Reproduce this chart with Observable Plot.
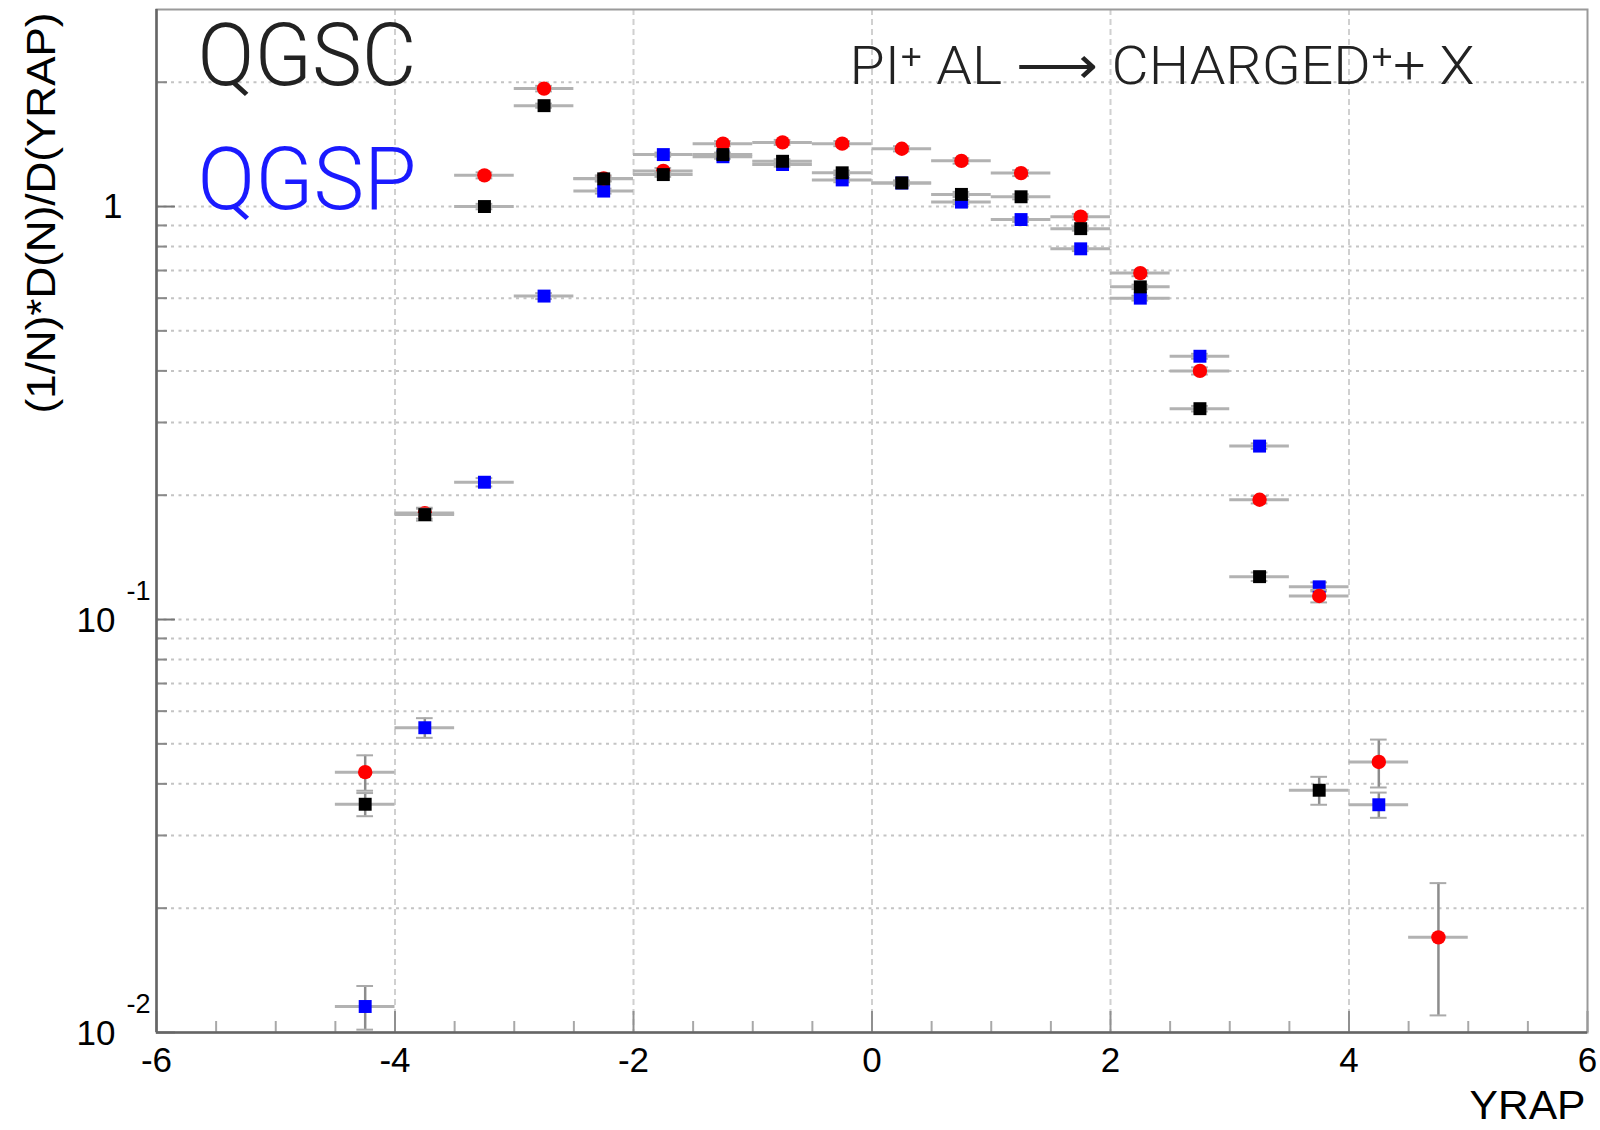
<!DOCTYPE html>
<html><head><meta charset="utf-8">
<script src="https://cdn.jsdelivr.net/npm/d3@7"></script>
<script src="https://cdn.jsdelivr.net/npm/@observablehq/plot@0.6"></script>
<style>
html,body{margin:0;padding:0;background:#fff;}
#chart{width:1600px;height:1130px;}
</style></head><body><div id="chart"></div>
<script>
// ---- data ----
const xCenters = [-4.25, -3.75, -3.25, -2.75, -2.25, -1.75, -1.25, -0.75, -0.25, 0.25, 0.75, 1.25, 1.75, 2.25, 2.75, 3.25, 3.75, 4.25, 4.75];
const xHalfWidth = 0.25;
const redValues   = [0.0427, 0.181, 1.19, 1.93, 1.17, 1.22, 1.42, 1.43, 1.42, 1.38, 1.29, 1.205, 0.945, 0.69, 0.40, 0.195, 0.114, 0.0452, 0.0170];
const redErrors   = [0.0042, 0.0055, 0.02, 0.03, 0.02, 0.02, 0.02, 0.02, 0.02, 0.02, 0.02, 0.02, 0.015, 0.012, 0.008, 0.004, 0.004, 0.006, 0.006];
const blackValues = [0.0357, 0.1795, 1.00, 1.755, 1.167, 1.195, 1.336, 1.287, 1.207, 1.141, 1.07, 1.056, 0.884, 0.639, 0.324, 0.127, 0.0386, null, null];
const blackErrors = [0.0023, 0.006, 0.015, 0.02, 0.015, 0.015, 0.015, 0.015, 0.015, 0.015, 0.015, 0.015, 0.01, 0.008, 0.005, 0.003, 0.003, null, null];
const blueValues  = [0.01156, 0.0547, 0.215, 0.607, 1.09, 1.336, 1.32, 1.264, 1.16, 1.14, 1.025, 0.93, 0.79, 0.60, 0.434, 0.263, 0.120, 0.0356, null];
const blueErrors  = [0.0014, 0.003, 0.005, 0.01, 0.015, 0.015, 0.015, 0.015, 0.015, 0.015, 0.012, 0.012, 0.01, 0.008, 0.006, 0.004, 0.003, 0.0025, null];

const xTickValues = [-6, -4, -2, 0, 2, 4, 6];
const xTickLabels = ["-6", "-4", "-2", "0", "2", "4", "6"];
const xMinorTicks = [-5.5, -5, -4.5, -3.5, -3, -2.5, -1.5, -1, -0.5, 0.5, 1, 1.5, 2.5, 3, 3.5, 4.5, 5, 5.5];
const xGridValues = [-4, -2, 0, 2, 4];
const yTickValues = [0.01, 0.1, 1];
const yTickBases = ["10", "10", "1"];
const yTickExponents = ["-2", "-1", ""];
const yMinorTicks = [0.02, 0.03, 0.04, 0.05, 0.06, 0.07, 0.08, 0.09, 0.2, 0.3, 0.4, 0.5, 0.6, 0.7, 0.8, 0.9, 2];
const yGridValues = [0.02, 0.03, 0.04, 0.05, 0.06, 0.07, 0.08, 0.09, 0.1, 0.2, 0.3, 0.4, 0.5, 0.6, 0.7, 0.8, 0.9, 1, 2];

const titleText = "PI\u207A AL \u27F6 CHARGED\u207A+ X";
const xLabel = "YRAP";
const yLabel = "(1/N)*D(N)/D(YRAP)";
const model1 = "QGSC";
const model2 = "QGSP";

// ---- build rows ----
function seriesRows(values, errors) {
  return xCenters.map((x, i) => ({x, v: values[i], e: errors[i]})).filter(d => d.v != null);
}
const redRows = seriesRows(redValues, redErrors);
const blackRows = seriesRows(blackValues, blackErrors);
const blueRows = seriesRows(blueValues, blueErrors);
const yLabelRows = yTickValues.map((v, i) => ({v, base: yTickBases[i], exp: yTickExponents[i]}));

const W = 1600, H = 1130, ML = 156, MR = 13, MT = 9, MB = 98;
const innerW = W - ML - MR, innerH = H - MT - MB;

function seriesMarks(rows, fill, symbol, r) {
  return [
    Plot.ruleY(rows, {y: "v", x1: d => d.x - xHalfWidth, x2: d => d.x + xHalfWidth, stroke: "#b2b2b2", strokeWidth: 3}),
    Plot.ruleX(rows, {x: "x", y1: d => d.v - d.e, y2: d => d.v + d.e, stroke: "#8c8c8c", strokeWidth: 2.5}),
    Plot.ruleY(rows, {y: d => d.v + d.e, x1: d => d.x - 0.07, x2: d => d.x + 0.07, stroke: "#aaaaaa", strokeWidth: 2}),
    Plot.ruleY(rows, {y: d => d.v - d.e, x1: d => d.x - 0.07, x2: d => d.x + 0.07, stroke: "#aaaaaa", strokeWidth: 2}),
    Plot.dot(rows, {x: "x", y: "v", fill, symbol, r})
  ];
}

const lightFont = "Roboto, 'Liberation Sans', Arial, sans-serif";

const plot = Plot.plot({
  width: W, height: H,
  marginLeft: ML, marginRight: MR, marginTop: MT, marginBottom: MB,
  x: {domain: [-6, 6], axis: null},
  y: {type: "log", domain: [0.01, 3], axis: null},
  style: {fontFamily: "'Liberation Sans', Arial, Helvetica, sans-serif", background: "#fff", overflow: "visible", color: "#000"},
  marks: [
    Plot.ruleY(yGridValues, {stroke: "#c4c4c4", strokeWidth: 2, strokeDasharray: "3,4.5"}),
    Plot.ruleX(xGridValues, {stroke: "#d0d0d0", strokeWidth: 2, strokeDasharray: "6,4"}),
    Plot.ruleX(xMinorTicks, {stroke: "#a8a8a8", strokeWidth: 2, insetTop: innerH - 11}),
    Plot.ruleX(xTickValues, {stroke: "#909090", strokeWidth: 2, insetTop: innerH - 21}),
    Plot.ruleY(yMinorTicks, {stroke: "#8a8a8a", strokeWidth: 2, insetRight: innerW - 11}),
    Plot.ruleY(yTickValues, {stroke: "#777", strokeWidth: 2, insetRight: innerW - 19}),
    Plot.frame({stroke: "#9a9a9a", strokeWidth: 2}),
    Plot.ruleX([-6], {stroke: "#666", strokeWidth: 2.5}),
    Plot.ruleY([0.01], {stroke: "#666", strokeWidth: 2.5}),
    ...seriesMarks(blueRows, "#0000ff", "square", 7.3),
    ...seriesMarks(redRows, "#ff0000", "circle", 7.2),
    ...seriesMarks(blackRows, "#000000", "square", 7.3),
    // x tick labels
    Plot.text(xTickValues, {x: d => d, text: xTickLabels, frameAnchor: "bottom", lineAnchor: "top", dy: 15, fontSize: 35, fill: "#000"}),
    // y tick labels
    Plot.text(yLabelRows.filter(d => d.exp === ""), {y: "v", text: "base", frameAnchor: "left", textAnchor: "end", dx: -34, fontSize: 35, fill: "#000"}),
    Plot.text(yLabelRows.filter(d => d.exp !== ""), {y: "v", text: "base", frameAnchor: "left", textAnchor: "end", dx: -41, dy: 1, fontSize: 35, fill: "#000"}),
    Plot.text(yLabelRows.filter(d => d.exp !== ""), {y: "v", text: "exp", frameAnchor: "left", textAnchor: "start", dx: -30, dy: -28, fontSize: 27, fill: "#000"}),
    // axis labels
    Plot.text([xLabel], {frameAnchor: "bottom-right", textAnchor: "end", lineAnchor: "bottom", dx: -2, dy: 86, fontSize: 41, fill: "#000"}),
    Plot.text([yLabel], {frameAnchor: "top-left", textAnchor: "end", lineAnchor: "bottom", rotate: -90, dx: -102, dy: 3, fontSize: 40, fill: "#000"}),
    // annotations
    Plot.text([model1], {frameAnchor: "top-left", textAnchor: "start", lineAnchor: "bottom", dx: 41, dy: 75, fontSize: 88, fontWeight: 300, fontFamily: lightFont, fill: "#222"}),
    Plot.text([model2], {frameAnchor: "top-left", textAnchor: "start", lineAnchor: "bottom", dx: 41, dy: 199, fontSize: 88, fontWeight: 300, fontFamily: lightFont, fill: "#1a1aff"}),
    Plot.text([titleText], {frameAnchor: "top-left", textAnchor: "start", lineAnchor: "bottom", dx: 693, dy: 74, fontSize: 54, fontWeight: 300, fontFamily: lightFont, fill: "#222"})
  ]
});
document.getElementById("chart").append(plot);

// fit text widths to the reference
const fit = [[model1, 219], [model2, 219], [titleText, 625], [xLabel, 116], [yLabel, 401]];
const svg = d3.select(plot);
for (const [str, len] of fit) {
  svg.selectAll("text").filter(function () { return this.textContent === str; })
    .attr("textLength", len).attr("lengthAdjust", "spacingAndGlyphs");
}
</script></body></html>
